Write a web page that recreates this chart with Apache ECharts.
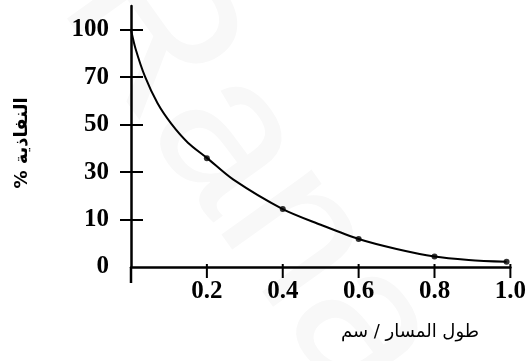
<!DOCTYPE html>
<html>
<head>
<meta charset="utf-8">
<script src="https://cdn.jsdelivr.net/npm/echarts@6/dist/echarts.min.js"></script>
<style>
  html, body { margin: 0; padding: 0; background: #fff; }
  #chart { width: 529px; height: 361px; }
</style>
</head>
<body>
<div id="chart"></div>
<script>
// Tick labels of the transmittance axis, one per equally spaced tick step
const yTickLabels = ['0', '10', '30', '50', '70', '100'];
const yTickSteps = [0, 1, 2, 3, 4, 5];

// Path length ticks (cm)
const xTicks = [0.2, 0.4, 0.6, 0.8, 1.0];

// Measured points: path length (cm) and height in tick steps
const dotX = [0.2, 0.4, 0.6, 0.8, 0.99];
const dotY = [2.29, 1.22, 0.59, 0.22, 0.11];

// Drawn decay curve, read along its length
const curveX = [0, 0.012, 0.037, 0.07, 0.107, 0.15, 0.2, 0.27, 0.4, 0.5, 0.6, 0.7, 0.8, 0.89, 0.99];
const curveY = [5.0, 4.6, 4.01, 3.45, 3.01, 2.62, 2.3, 1.84, 1.22, 0.89, 0.59, 0.38, 0.22, 0.15, 0.11];

const yTitle = '% النفاذية';
const xTitle = 'طول المسار / سم';

const numFont = { fontFamily: 'Liberation Serif', fontWeight: 'bold', fontSize: 25, color: '#000' };
const tickLine = { color: '#000', width: 2 };

const chart = echarts.init(document.getElementById('chart'), null, { renderer: 'canvas' });

const titles = [
  {
    type: 'text', z: -10, silent: true,
    x: 250, y: 175, rotation: -0.95,
    style: { text: 'Rana', font: '210px "Liberation Sans"', fill: '#f8f8f8',
             align: 'center', verticalAlign: 'middle' }
  },
  {
    type: 'text', x: 22, y: 143, rotation: Math.PI / 2,
    style: { text: yTitle, font: 'bold 18px "DejaVu Sans"', fill: '#000',
             align: 'center', verticalAlign: 'middle' }
  },
  {
    type: 'text', x: 410, y: 332,
    style: { text: xTitle, font: '18px "DejaVu Sans"', fill: '#000',
             align: 'center', verticalAlign: 'middle' }
  }
];

chart.setOption({
  animation: false,
  backgroundColor: '#fff',
  grid: { left: 131, right: 17, top: 6, bottom: 94, containLabel: false },
  graphic: titles,
  xAxis: {
    type: 'value', min: 0, max: 1.0, interval: 0.2,
    axisLine: { show: true, onZero: false, lineStyle: { color: '#000', width: 2.5 } },
    axisTick: { show: false },
    axisLabel: {
      ...numFont, margin: 12,
      formatter: v => (v === 0 ? '' : v.toFixed(1))
    },
    splitLine: { show: false }
  },
  yAxis: [
    {
      type: 'value', min: 0, max: 5.5,
      axisLine: { show: true, onZero: false, lineStyle: { color: '#000', width: 2.5 } },
      axisTick: { show: true, inside: false, length: 11, customValues: yTickSteps.slice(1), lineStyle: tickLine },
      axisLabel: {
        ...numFont, margin: 22,
        customValues: yTickSteps,
        formatter: v => yTickLabels[Math.round(v)]
      },
      splitLine: { show: false }
    },
    {
      type: 'value', min: 0, max: 5.5, position: 'left',
      axisLine: { show: false, onZero: false },
      axisTick: { show: true, inside: true, length: 12, customValues: yTickSteps.slice(1), lineStyle: tickLine },
      axisLabel: { show: false },
      splitLine: { show: false }
    }
  ],
  series: [
    {
      type: 'line',
      data: curveX.map((x, i) => [x, curveY[i]]),
      smooth: 0.3,
      showSymbol: false,
      lineStyle: { color: '#000', width: 2 }
    },
    {
      type: 'scatter',
      data: dotX.map((x, i) => [x, dotY[i]]),
      symbol: 'circle', symbolSize: 6,
      itemStyle: { color: '#000' }
    }
  ]
});

// Ticks on the path-length axis (short stub above, longer part below) and the
// continuation of the vertical axis under the origin, placed through the axis scales
const tickMarks = [[0, 0, 16, 2.5]].concat(xTicks.map(v => [v, 3, 11, 2]));
const tickGraphics = tickMarks.map(([v, up, down, w]) => {
  const p = chart.convertToPixel({ xAxisIndex: 0, yAxisIndex: 0 }, [v, 0]);
  return {
    type: 'line', z: 100, silent: true,
    shape: { x1: p[0], y1: p[1] - up, x2: p[0], y2: p[1] + down },
    style: { stroke: '#000', lineWidth: w }
  };
});
chart.setOption({ graphic: titles.concat(tickGraphics) });
</script>
</body>
</html>
